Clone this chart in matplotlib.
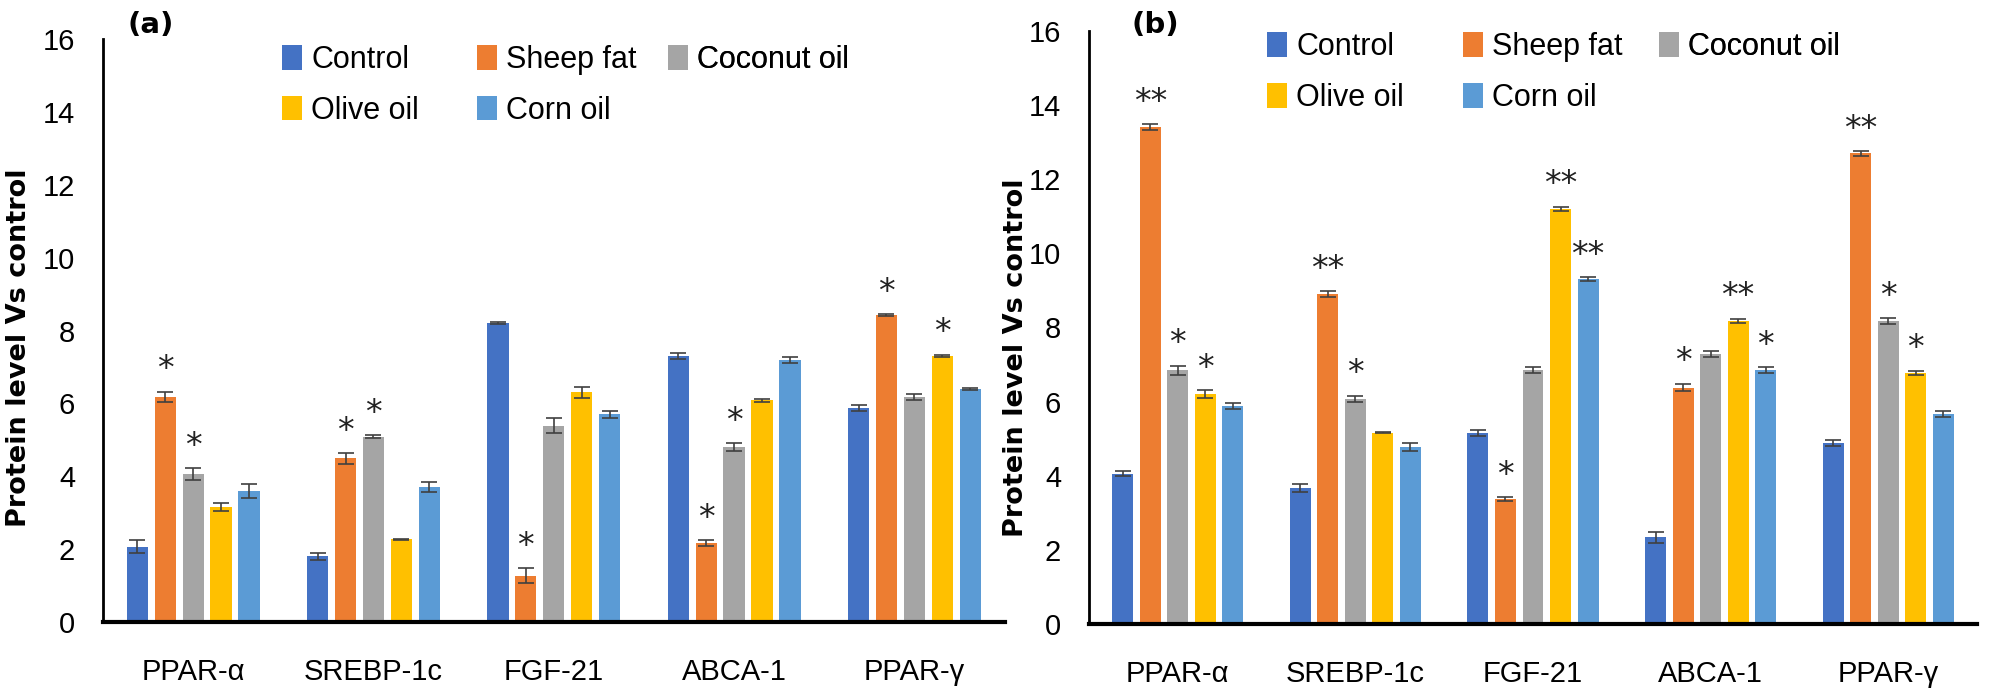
import matplotlib
matplotlib.use("Agg")
import matplotlib.pyplot as plt
import numpy as np
from matplotlib import font_manager

genes = ["PPAR-α", "SREBP-1c", "FGF-21", "ABCA-1", "PPAR-γ"]
groups = ["Control", "Sheep fat", "Coconut oil", "Olive oil", "Corn oil"]
colors = ["#4472C4", "#ED7D31", "#A5A5A5", "#FFC000", "#5B9BD5"]

# panel (a)
a_control = [2.07, 1.80, 8.20, 7.31, 5.88]
a_sheep = [6.18, 4.49, 1.27, 2.16, 8.42]
a_coconut = [4.06, 5.09, 5.39, 4.80, 6.18]
a_olive = [3.16, 2.27, 6.30, 6.08, 7.31]
a_corn = [3.60, 3.71, 5.70, 7.19, 6.40]
a_err = [[0.18, 0.10, 0.03, 0.08, 0.08],
         [0.14, 0.14, 0.20, 0.08, 0.03],
         [0.16, 0.03, 0.20, 0.10, 0.08],
         [0.10, 0.02, 0.15, 0.03, 0.03],
         [0.19, 0.14, 0.10, 0.08, 0.03]]
a_stars = [["", "", "", "", ""],
           ["*", "*", "*", "*", "*"],
           ["*", "*", "", "*", ""],
           ["", "", "", "", "*"],
           ["", "", "", "", ""]]

# panel (b)
b_control = [4.06, 3.67, 5.16, 2.34, 4.89]
b_sheep = [13.40, 8.90, 3.37, 6.38, 12.70]
b_coconut = [6.85, 6.08, 6.85, 7.28, 8.17]
b_olive = [6.20, 5.16, 11.20, 8.17, 6.77]
b_corn = [5.88, 4.78, 9.30, 6.85, 5.67]
b_err = [[0.08, 0.12, 0.08, 0.15, 0.08],
         [0.08, 0.08, 0.05, 0.10, 0.06],
         [0.12, 0.08, 0.08, 0.08, 0.08],
         [0.10, 0.02, 0.06, 0.06, 0.06],
         [0.08, 0.10, 0.05, 0.08, 0.08]]
b_stars = [["", "", "", "", ""],
           ["**", "**", "*", "*", "**"],
           ["*", "*", "", "", "*"],
           ["*", "", "**", "**", "*"],
           ["", "", "**", "*", ""]]

names = {f.name for f in font_manager.fontManager.ttflist}
narrow = "Liberation Sans Narrow" if "Liberation Sans Narrow" in names else "Liberation Sans"
plt.rcParams["font.family"] = [narrow, "DejaVu Sans"]

fig = plt.figure(figsize=(20.08, 6.93), dpi=100)
ax_a = fig.add_axes([0.0513, 0.1025, 0.449, 0.841])
ax_b = fig.add_axes([0.5423, 0.0996, 0.4423, 0.8557])


def draw(ax, series, errs, stars, lab_xy, leg_xs, leg_y):
    x = np.arange(len(genes))
    step = 0.155
    w = 0.118
    handles = []
    for i, vals in enumerate(series):
        pos = x + (i - 2) * step
        h = ax.bar(pos, vals, w, color=colors[i], label=groups[i],
                   yerr=errs[i], ecolor="#404040",
                   error_kw=dict(capsize=6, elinewidth=1.2, capthick=1.2))
        handles.append(h)
        for p, v, e, s in zip(pos, vals, errs[i], stars[i]):
            if s:
                ax.text(p, v + e + 0.15, s, ha="center", va="bottom",
                        fontsize=24, family="DejaVu Sans", color="#222222")
    ax.set_xlim(-0.5, len(genes) - 0.5)
    ax.set_ylim(0, 16)
    ax.set_yticks(range(0, 17, 2))
    ax.set_xticks(x)
    ax.set_xticklabels(genes, fontsize=21)
    ax.tick_params(axis="y", labelsize=21, length=0, pad=20)
    ax.tick_params(axis="x", length=0, pad=26)
    for side in ["top", "right"]:
        ax.spines[side].set_visible(False)
    ax.spines["left"].set_linewidth(2)
    ax.spines["bottom"].set_linewidth(3)
    ax.set_ylabel("Protein level Vs control", fontsize=19.5,
                  fontweight="bold", family="DejaVu Sans")
    ax.yaxis.set_label_coords(*lab_xy)
    # Excel-style legend: three fixed-width columns, filled row by row
    cols = [[0, 3], [1, 4], [2]]
    for lx, col in zip(leg_xs, cols):
        leg = ax.legend([handles[k] for k in col], [groups[k] for k in col],
                        loc="upper left", bbox_to_anchor=(lx, leg_y),
                        frameon=False, fontsize=22, handlelength=0.65,
                        handleheight=0.85, handletextpad=0.3,
                        labelspacing=0.68, borderpad=0, borderaxespad=0)
        ax.add_artist(leg)


draw(ax_a, [a_control, a_sheep, a_coconut, a_olive, a_corn], a_err, a_stars,
     (-0.0787, 0.47), [0.1985, 0.415, 0.627], 0.99)
draw(ax_b, [b_control, b_sheep, b_coconut, b_olive, b_corn], b_err, b_stars,
     (-0.0676, 0.449), [0.2005, 0.421, 0.642], 0.998)

fig.text(0.0637, 0.964, "(a)", fontsize=21, fontweight="bold",
         family="DejaVu Sans", va="center")
fig.text(0.5637, 0.964, "(b)", fontsize=21, fontweight="bold",
         family="DejaVu Sans", va="center")

fig.savefig("out.png", dpi=100)
